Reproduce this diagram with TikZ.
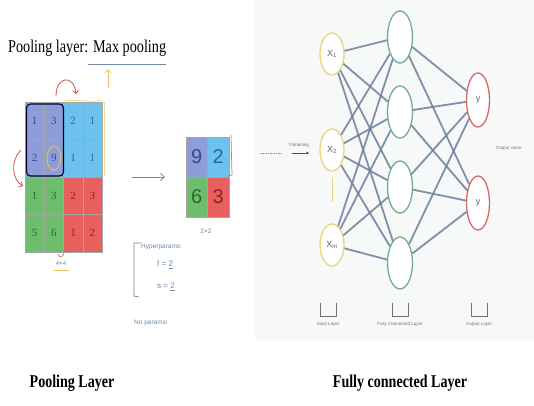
\documentclass[tikz,border=0pt]{standalone}
\usepackage{fontspec}
\setmainfont{Liberation Serif}
\setsansfont{Liberation Sans}
\usetikzlibrary{arrows.meta,shapes.geometric}
\definecolor{cpurple}{HTML}{8E9DD8}
\definecolor{ccyan}{HTML}{6CC2EC}
\definecolor{cgreen}{HTML}{6CBD6C}
\definecolor{cred}{HTML}{E8605E}
\definecolor{tpurple}{HTML}{34489A}
\definecolor{tcyan}{HTML}{2A6A98}
\definecolor{tgreen}{HTML}{2C6A2C}
\definecolor{tred}{HTML}{8A2424}
\definecolor{ink}{HTML}{6E88A6}
\definecolor{wire}{HTML}{6A7E9C}
\definecolor{inyel}{HTML}{E6D77A}
\definecolor{hidgrn}{HTML}{6FAE96}
\definecolor{outred}{HTML}{D9686B}
\definecolor{panel}{HTML}{F7F8F8}
\definecolor{penred}{HTML}{C8564E}
\definecolor{penyel}{HTML}{E8C25A}
\tikzset{
  bigcell/.style={draw=black!35, line width=0.4pt, minimum width=19.25pt, minimum height=37.5pt, inner sep=0pt, font=\fontsize{11}{11}\selectfont},
  smallcell/.style={draw=black!35, line width=0.4pt, minimum width=21.5pt, minimum height=40pt, inner sep=0pt, font=\sffamily\fontsize{20}{20}\selectfont},
  neuron/.style={ellipse, line width=1.3pt, fill=white, inner sep=0pt, font=\sffamily\fontsize{9}{9}\selectfont\color{black!60}},
  inp/.style={neuron, draw=inyel, minimum width=24pt, minimum height=42pt},
  hid/.style={neuron, draw=hidgrn, minimum width=25pt, minimum height=52pt},
  outp/.style={neuron, draw=outred, minimum width=23pt, minimum height=54pt},
  wires/.style={draw=wire, line width=1.8pt, opacity=0.85},
  tiny/.style={font=\sffamily\fontsize{4.5}{5}\selectfont, text=black!55, inner sep=0pt},
  hand/.style={font=\sffamily\fontsize{6.5}{7}\selectfont, text=ink, inner sep=0pt},
  caption/.style={font=\bfseries\fontsize{18}{18}\selectfont, inner sep=0pt, xscale=0.78},
}
\begin{document}
\begin{tikzpicture}[x=1pt,y=-1pt]
\useasboundingbox (0,0) rectangle (534,405);
% right panel background
\fill[panel] (255,0) rectangle (534,340);

% ---------- Title ----------
\node[anchor=west, inner sep=0pt, font=\fontsize{18}{18}\selectfont, xscale=0.79] (title) at (8,48) {Pooling layer: Max pooling};
\draw[ink, line width=0.8pt] (88,64) -- (166,64);
\coordinate (ya) at (108,88);
\coordinate (yb) at (108,69);
\draw[penyel, line width=0.8pt, -{Straight Barb[length=3pt]}] (ya) -- (yb);

% ---------- Left 4x4 grid ----------
\def\gx{25}\def\gy{102}
\foreach \r/\c/\v/\fc/\tc in {
 1/1/1/cpurple/tpurple, 1/2/3/cpurple/tpurple, 1/3/2/ccyan/tcyan, 1/4/1/ccyan/tcyan,
 2/1/2/cpurple/tpurple, 2/2/9/cpurple/tpurple, 2/3/1/ccyan/tcyan, 2/4/1/ccyan/tcyan,
 3/1/1/cgreen/tgreen, 3/2/3/cgreen/tgreen, 3/3/2/cred/tred, 3/4/3/cred/tred,
 4/1/5/cgreen/tgreen, 4/2/6/cgreen/tgreen, 4/3/1/cred/tred, 4/4/2/cred/tred}{
  \node[bigcell, fill=\fc, text=\tc] (g\r\c) at ({\gx+(\c-0.5)*19.25},{\gy+(\r-0.5)*37.5}) {\v};
}
% annotations on grid
\draw[black!80!blue, line width=1.1pt, rounded corners=4pt] (26.5,104) rectangle (63.5,176);
\draw[penyel, line width=0.9pt] (g22) ellipse (7pt and 12pt);
\draw[penyel, line width=0.7pt, opacity=0.7] (64,101) .. controls (75,99) and (90,103) .. (102,100);
\draw[penyel, line width=0.7pt, opacity=0.6] (104,102) -- (104,176);
\coordinate (ra1) at (21,150);
\coordinate (ra2) at (23,186);
\draw[penred, line width=0.8pt, -{Straight Barb[length=3pt]}] (ra1) .. controls (10,160) and (12,180) .. (ra2);
\coordinate (rb1) at (56,96);
\coordinate (rb2) at (76,94);
\draw[penred, line width=0.8pt, -{Straight Barb[length=3pt]}] (rb1) .. controls (56,76) and (74,74) .. (rb2);
\draw[penred, line width=0.6pt] (58,254) .. controls (60,258) and (62,258) .. (64,253);
\node[hand, font=\sffamily\fontsize{6}{6}\selectfont] (g44lab) at (61,263) {4×4};
\draw[penyel, line width=0.6pt] (54,270) -- (69,270);

% ---------- arrow ----------
\coordinate (a1) at (132,177);
\coordinate (a2) at (165,177);
\draw[ink, line width=0.8pt, -{Straight Barb[length=4pt,width=7pt]}] (a1) -- (a2);

% ---------- small 2x2 grid ----------
\foreach \r/\c/\v/\fc/\tc in {1/1/9/cpurple/tpurple, 1/2/2/ccyan/tcyan, 2/1/6/cgreen/tgreen, 2/2/3/cred/tred}{
  \node[smallcell, fill=\fc, text=\tc] (s\r\c) at ({186+(\c-0.5)*21.5},{137+(\r-0.5)*40}) {\v};
}
\draw[penred, line width=0.7pt, opacity=0.8] (231,135) -- (232,175) -- (228,176);
\node[hand] (s22lab) at (206,231) {2×2};

% ---------- hyperparams note ----------
\draw[ink, line width=0.8pt] (141,243) -- (134,243) -- (134,296) -- (139,297);
\node[hand, anchor=west] (hp) at (141,247) {Hyperparams:};
\node[hand, anchor=west, font=\sffamily\fontsize{8}{8}\selectfont] (hf) at (157,265) {f = \underline{2}};
\node[hand, anchor=west, font=\sffamily\fontsize{8}{8}\selectfont] (hs) at (157,287) {s = \underline{2}};
\node[hand, anchor=west] (np) at (134,323) {No params!};

% ---------- Neural network ----------
\node[inp] (x1) at (332,54) {X\textsubscript{1}};
\node[inp] (x2) at (332,150) {X\textsubscript{2}};
\node[inp] (xm) at (332,245) {X\textsubscript{m}};
\node[hid] (h1) at (400,37) {};
\node[hid] (h2) at (400,112) {};
\node[hid] (h3) at (400,187) {};
\node[hid] (h4) at (400,263) {};
\node[outp] (y1) at (478,100) {y};
\node[outp] (y2) at (478,203) {y};
\foreach \i in {x1,x2,xm}{\foreach \h in {h1,h2,h3,h4}{\draw[wires] (\i) -- (\h);}}
\foreach \h in {h1,h2,h3,h4}{\foreach \o in {y1,y2}{\draw[wires] (\h) -- (\o);}}
\draw[inyel, line width=1pt] (x2.south) ++(0,6) coordinate (vd1) -- ++(0,24) coordinate (vd2);

% flattening
\node[tiny] (flat) at (299,145) {Flattening};
\coordinate (f1) at (292,153);
\coordinate (f2) at (309,153);
\draw[black!70, line width=1pt, -{Latex[length=2.5pt,width=3pt]}] (f1) -- (f2);
\coordinate (d1) at (260,153);
\coordinate (d2) at (281,153);
\draw[black!45, line width=0.9pt, dash pattern=on 1pt off 0.6pt] (d1) -- (d2);
\node[tiny, anchor=west] (outv) at (496,148) {Output value};

% layer brackets
\foreach \n/\x/\t in {bi/328/Input Layer, bh/400/Fully Connected Layer, bo/479/Output Layer}{
  \draw[black!55, line width=0.7pt] (\x-8,303) -- (\x-8,316) -- (\x+8,316) -- (\x+8,303);
  \node[tiny] (\n) at (\x,324) {\t};
}

% ---------- captions ----------
\node[caption] (cap1) at (72,383) {Pooling Layer};
\node[caption] (cap2) at (400,383) {Fully connected Layer};
\end{tikzpicture}
\end{document}
